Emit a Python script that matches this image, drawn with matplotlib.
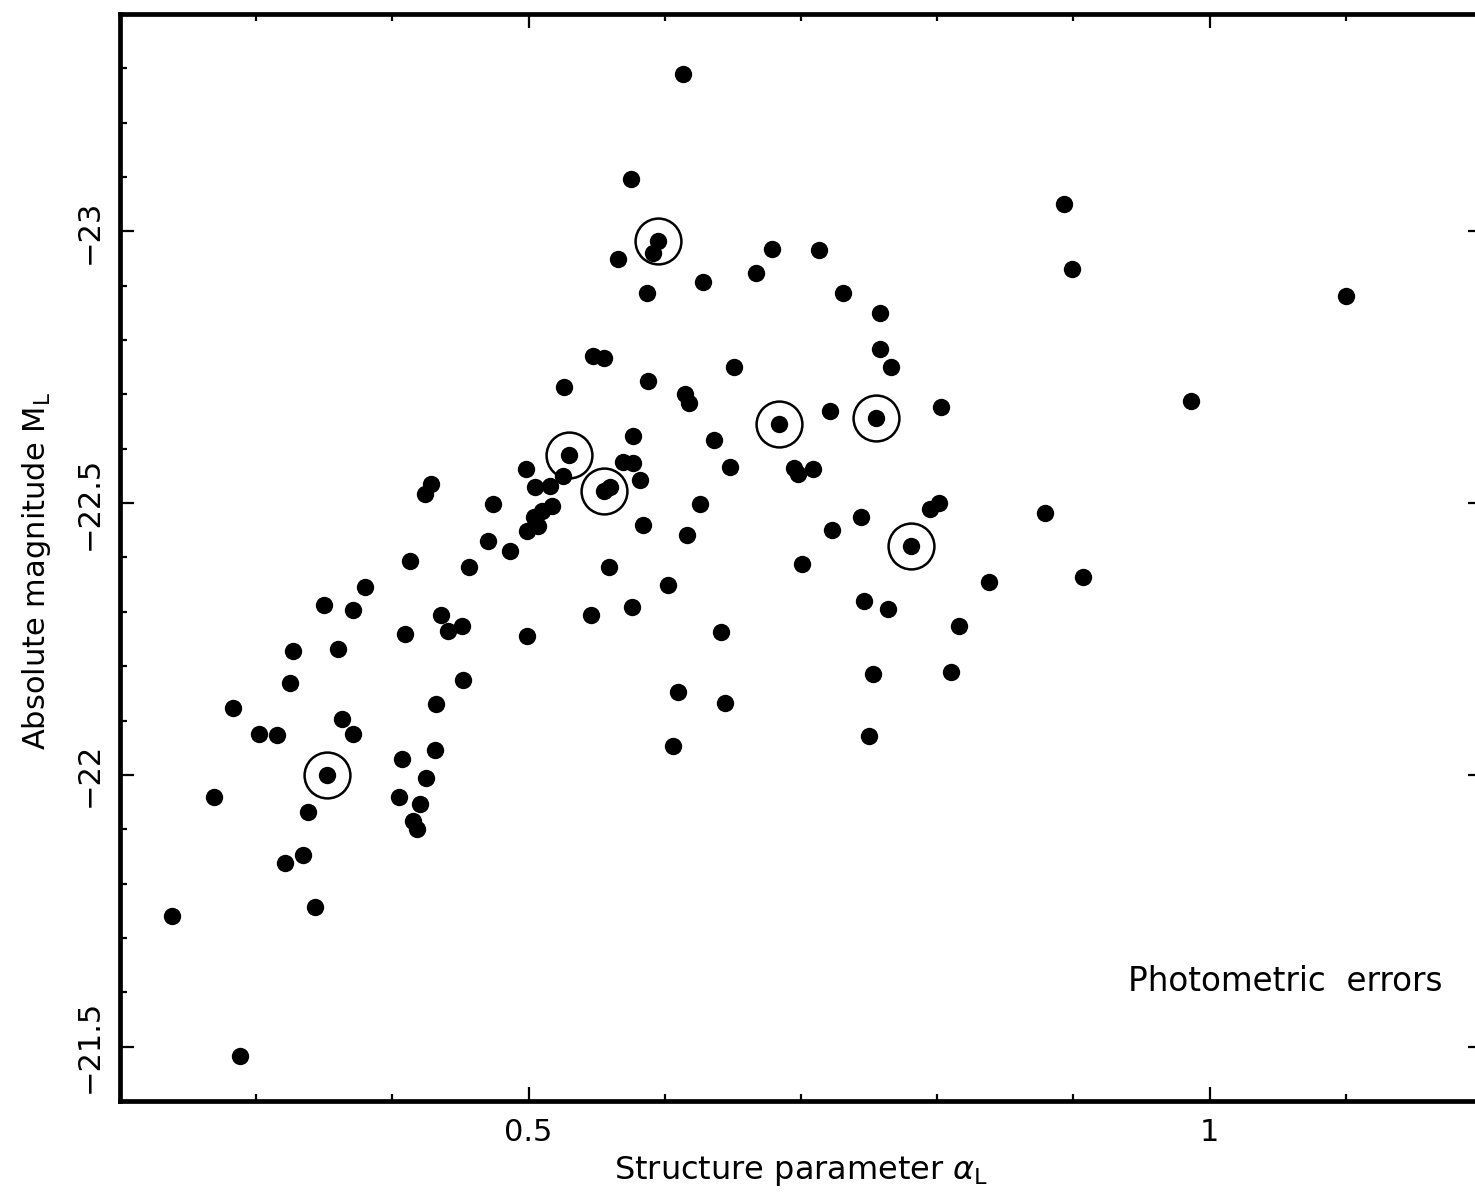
import numpy as np
import matplotlib.pyplot as plt
from matplotlib.ticker import MultipleLocator, FuncFormatter

# parámetro de estructura alpha_L y magnitud absoluta M_L
alpha_L = [0.238, 0.269, 0.283, 0.288, 0.302, 0.315, 0.321, 0.325, 0.327, 0.334,
           0.338, 0.343, 0.350, 0.352, 0.360, 0.363, 0.371, 0.371, 0.380, 0.405,
           0.407, 0.409, 0.413, 0.415, 0.418, 0.420, 0.425, 0.424, 0.428, 0.431,
           0.432, 0.436, 0.441, 0.451, 0.452, 0.456, 0.470, 0.474, 0.486, 0.498,
           0.499, 0.499, 0.504, 0.510, 0.517, 0.507, 0.505, 0.516, 0.525, 0.526,
           0.530, 0.546, 0.547, 0.555, 0.555, 0.560, 0.559, 0.566, 0.569, 0.575,
           0.577, 0.576, 0.577, 0.582, 0.584, 0.587, 0.588, 0.591, 0.595, 0.602,
           0.606, 0.610, 0.613, 0.615, 0.618, 0.616, 0.626, 0.628, 0.636, 0.641,
           0.644, 0.648, 0.651, 0.667, 0.679, 0.684, 0.695, 0.698, 0.701, 0.709,
           0.713, 0.721, 0.723, 0.731, 0.744, 0.746, 0.750, 0.753, 0.755, 0.758,
           0.758, 0.764, 0.766, 0.781, 0.795, 0.801, 0.803, 0.810, 0.816, 0.838,
           0.879, 0.893, 0.899, 0.907, 0.986, 1.100]
M_L = [-21.741, -21.960, -22.123, -21.483, -22.075, -22.074, -21.838, -22.169, -22.228, -21.853,
       -21.932, -21.757, -22.312, -22.000, -22.232, -22.103, -22.075, -22.303, -22.346, -21.960,
       -22.029, -22.259, -22.393, -21.915, -21.901, -21.947, -21.994, -22.517, -22.535, -22.046,
       -22.131, -22.294, -22.265, -22.274, -22.175, -22.382, -22.430, -22.498, -22.412, -22.563,
       -22.449, -22.256, -22.474, -22.485, -22.494, -22.458, -22.529, -22.531, -22.550, -22.713,
       -22.588, -22.294, -22.770, -22.767, -22.522, -22.529, -22.382, -22.949, -22.575, -23.096,
       -22.623, -22.309, -22.574, -22.542, -22.460, -22.886, -22.724, -22.960, -22.982, -22.349,
       -22.053, -22.153, -23.289, -22.700, -22.684, -22.441, -22.498, -22.906, -22.616, -22.263,
       -22.132, -22.566, -22.750, -22.923, -22.967, -22.645, -22.564, -22.553, -22.388, -22.563,
       -22.965, -22.669, -22.450, -22.886, -22.474, -22.320, -22.072, -22.186, -22.656, -22.849,
       -22.783, -22.305, -22.750, -22.421, -22.489, -22.500, -22.676, -22.189, -22.274, -22.355,
       -22.482, -23.051, -22.930, -22.364, -22.688, -22.881]

# objetos marcados con círculo
alpha_circ = [0.352, 0.530, 0.555, 0.595, 0.684, 0.755, 0.781]
M_circ = [-22.000, -22.588, -22.522, -22.982, -22.645, -22.656, -22.421]

plt.rcParams['font.family'] = ['DejaVu Sans']
plt.rcParams['mathtext.fontset'] = 'dejavusans'

fig = plt.figure(figsize=(14.75, 11.92), dpi=100)
ax = fig.add_axes([120 / 1475, 91 / 1192, 1362 / 1475, 1087 / 1192])

ax.plot(alpha_L, M_L, 'o', color='black', ms=12.5, mec='none')
ax.plot(alpha_circ, M_circ, 'o', mfc='none', mec='black', ms=33, mew=1.8)

ax.set_xlim(0.2, 1.2)
ax.set_ylim(-21.4, -23.4)

ax.xaxis.set_major_locator(MultipleLocator(0.5))
ax.xaxis.set_minor_locator(MultipleLocator(0.1))
ax.yaxis.set_major_locator(MultipleLocator(0.5))
ax.yaxis.set_minor_locator(MultipleLocator(0.1))
fmt = FuncFormatter(lambda v, p: ('%g' % v).replace('-', '\u2212'))
ax.xaxis.set_major_formatter(fmt)
ax.yaxis.set_major_formatter(fmt)

ax.tick_params(which='both', direction='in', top=True, right=True, width=1.6)
ax.tick_params(which='major', length=10, labelsize=22, pad=12)
ax.tick_params(which='minor', length=5)
for lab in ax.get_yticklabels():
    lab.set_rotation(90)
    lab.set_va('center')
for sp in ax.spines.values():
    sp.set_linewidth(3.4)

ax.set_xlabel(r'Structure parameter $\alpha_{\rm L}$', fontsize=23, labelpad=5)
ax.set_ylabel(r'Absolute magnitude M$_{\rm L}$', fontsize=22)
ax.yaxis.set_label_coords(-0.049, 0.488)

ax.text(0.94, -21.62, 'Photometric  errors', fontsize=23.5, ha='left', va='center')

fig.savefig('out.png', dpi=100)
